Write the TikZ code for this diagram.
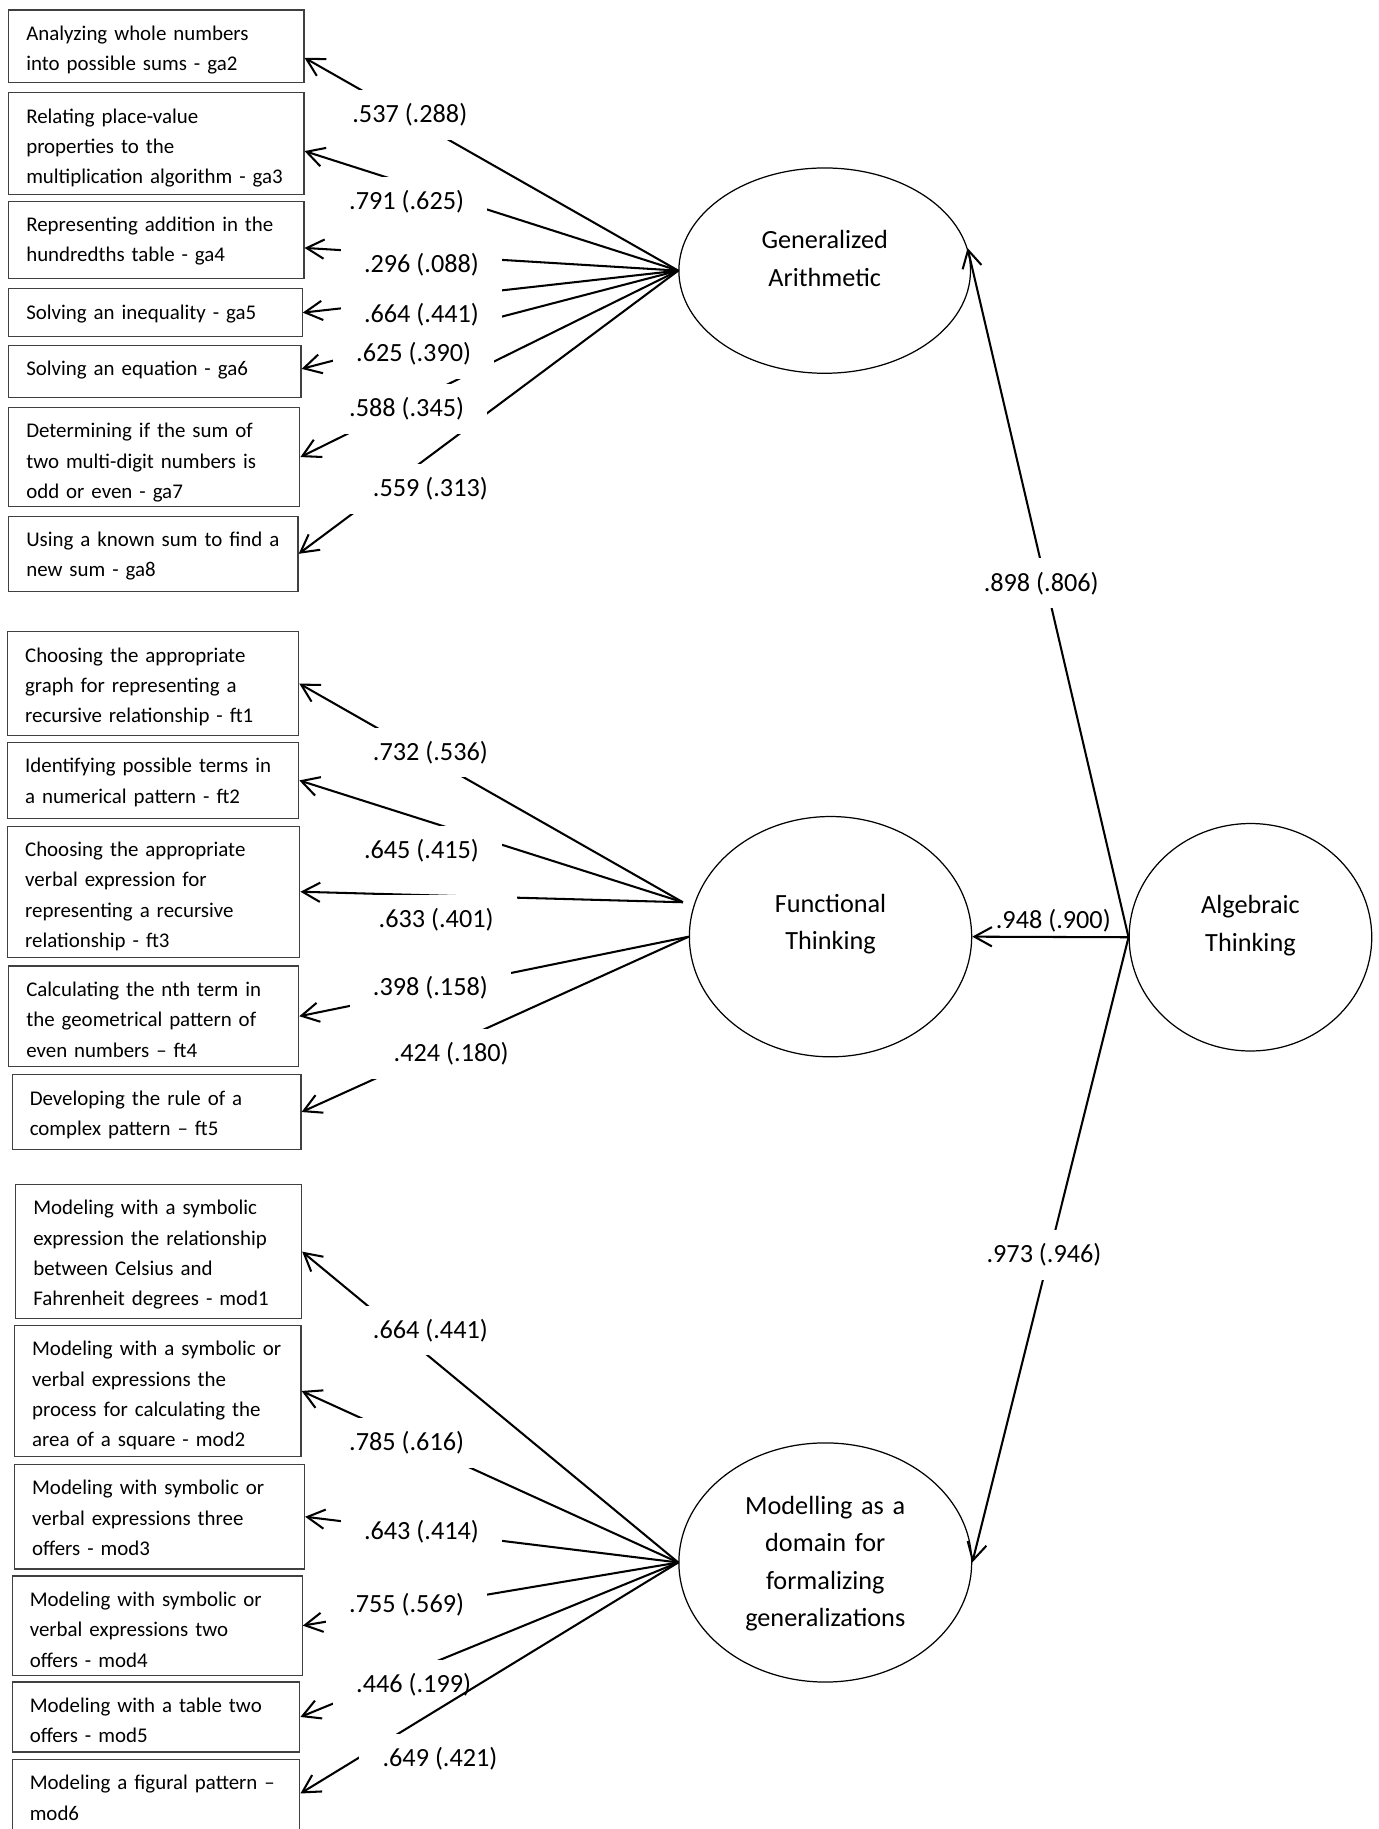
\documentclass[tikz,border=0pt]{standalone}
\usepackage{fontspec}
\setmainfont{Carlito}
\usepackage{tikz}
\usetikzlibrary{arrows.meta,calc,shapes.geometric}
\newcommand{\indfont}{\fontsize{10.2}{14.8}\selectfont}
\newcommand{\latfont}{\fontsize{12.8}{18.3}\selectfont}
\newcommand{\rows}[1]{\begin{tabular}[t]{@{}l@{}}#1\end{tabular}}
\tikzset{
  ind/.style={draw=black!75, line width=0.6pt, anchor=north west, align=left,
    inner xsep=3mm, inner ysep=0pt, text height=5.2mm, font=\indfont},
  lat/.style={draw, ellipse, line width=0.6pt, inner sep=0pt, align=center,
    text height=4.5mm, font=\latfont},
  load/.style={line width=1pt, -{Straight Barb[length=3mm,width=3.3mm]}},
  coef/.style={fill=white, inner xsep=4mm, inner ysep=2.3mm, font=\latfont}
}
\begin{document}
\begin{tikzpicture}[x=0.2mm, y=-0.2mm]
\useasboundingbox (0,0) rectangle (1182,1568);
\node[ind, text width=44.6mm, text depth=7.2mm] (ga2) at (7,8) {\rows{Analyzing whole numbers\\into possible sums - ga2}};
\node[ind, text width=44.6mm, text depth=12.2mm] (ga3) at (7,79) {\rows{Relating place-value\\properties to the\\multiplication algorithm - ga3}};
\node[ind, text width=44.6mm, text depth=8mm] (ga4) at (7,172) {\rows{Representing addition in the\\hundredths table - ga4}};
\node[ind, text width=44.3mm, text depth=3mm] (ga5) at (7,247) {\rows{Solving an inequality - ga5}};
\node[ind, text width=44.1mm, text depth=3.7mm] (ga6) at (7,295.7) {\rows{Solving an equation - ga6}};
\node[ind, text width=43.9mm, text depth=11.8mm] (ga7) at (7,348.8) {\rows{Determining if the sum of\\two multi-digit numbers is\\odd or even - ga7}};
\node[ind, text width=43.6mm, text depth=7.7mm] (ga8) at (7,442) {\rows{Using a known sum to find a\\new sum - ga8}};
\node[ind, text width=43.9mm, text depth=12.6mm] (ft1) at (6,541) {\rows{Choosing the appropriate\\graph for representing a\\recursive relationship - ft1}};
\node[ind, text width=43.9mm, text depth=7.8mm] (ft2) at (6,636) {\rows{Identifying possible terms in\\a numerical pattern - ft2}};
\node[ind, text width=44.1mm, text depth=17.3mm] (ft3) at (6,707.7) {\rows{Choosing the appropriate\\verbal expression for\\representing a recursive\\relationship - ft3}};
\node[ind, text width=43.7mm, text depth=12mm] (ft4) at (7,827.7) {\rows{Calculating the nth term in\\the geometrical pattern of\\even numbers – ft4}};
\node[ind, text width=43.5mm, text depth=7.6mm] (ft5) at (10,920.8) {\rows{Developing the rule of a\\complex pattern – ft5}};
\node[ind, text width=43mm, text depth=17.8mm] (mod1) at (13,1015) {\rows{Modeling with a symbolic\\expression the relationship\\between Celsius and\\Fahrenheit degrees - mod1}};
\node[ind, text width=43.1mm, text depth=17.3mm] (mod2) at (12,1135.7) {\rows{Modeling with a symbolic or\\verbal expressions the\\process for calculating the\\area of a square - mod2}};
\node[ind, text width=43.7mm, text depth=12.7mm] (mod3) at (12,1255) {\rows{Modeling with symbolic or\\verbal expressions three\\offers - mod3}};
\node[ind, text width=43.7mm, text depth=11.8mm] (mod4) at (10,1350.6) {\rows{Modeling with symbolic or\\verbal expressions two\\offers - mod4}};
\node[ind, text width=43.3mm, text depth=6.8mm] (mod5) at (10,1441.4) {\rows{Modeling with a table two\\offers - mod5}};
\node[ind, text width=43.3mm, text depth=7.8mm] (mod6) at (10,1508) {\rows{Modeling a figural pattern –\\mod6}};
\node[lat, minimum width=50mm, minimum height=35.2mm, text width=30mm, text depth=12mm] (GA) at (707,232) {Generalized\\Arithmetic};
\node[lat, minimum width=48.4mm, minimum height=41.2mm, text width=30mm, text depth=12.8mm] (FT) at (712,803) {Functional\\Thinking};
\node[lat, minimum width=41.6mm, minimum height=39mm, text width=26mm, text depth=12.6mm] (AT) at (1072,803.5) {Algebraic\\Thinking};
\node[lat, minimum width=50.2mm, minimum height=41mm, text width=30mm, text depth=21mm] (MOD) at (707.5,1339.5) {Modelling as a\\domain for\\formalizing\\generalizations};
\coordinate (FTup) at ($(FT.west)+(-5,-29.5)$);
\draw[load] (GA.west) -- ([yshift=-2mm]ga2.east);
\draw[load] (GA.west) -- ([yshift=-1.3mm]ga3.east);
\draw[load] (GA.west) -- ([yshift=-1.4mm]ga4.east);
\draw[load] (GA.west) -- (ga5.east);
\draw[load] (GA.west) -- ([yshift=0.45mm]ga6.east);
\draw[load] (GA.west) -- (ga7.east);
\draw[load] (GA.west) -- (ga8.east);
\draw[load] (FTup) -- (ft1.east);
\draw[load] (FTup) -- (ft2.east);
\draw[load] (FTup) -- (ft3.east);
\draw[load] (FT.west) -- (ft4.east);
\draw[load] (FT.west) -- (ft5.east);
\draw[load] (MOD.west) -- (mod1.east);
\draw[load] (MOD.west) -- (mod2.east);
\draw[load] (MOD.west) -- (mod3.east);
\draw[load] (MOD.west) -- (mod4.east);
\draw[load] (MOD.west) -- (mod5.east);
\draw[load] (AT.west) -- (GA.9);
\draw[load] (AT.west) -- (FT.east);
\draw[load] (AT.west) -- (MOD.east);
\node[coef] (cga2) at (351.3,98.6) {.537 (.288)};
\node[coef] (cga3) at (348.6,172.9) {.791 (.625)};
\node[coef] (cga4) at (361.3,227) {.296 (.088)};
\node[coef] (cga5) at (361.3,270) {.664 (.441)};
\node[coef] (cga6) at (354.6,303.4) {.625 (.390)};
\node[coef] (cga7) at (348.6,350.6) {.588 (.345)};
\node[coef] (cga8) at (369,419) {.559 (.313)};
\node[coef] (cft1) at (369,645.1) {.732 (.536)};
\node[coef] (cft2) at (361.3,729.4) {.645 (.415)};
\node[coef] (cft3) at (373.9,788.6) {.633 (.401)};
\node[coef] (cft4) at (369,846.6) {.398 (.158)};
\node[coef] (cft5) at (386.8,903.7) {.424 (.180)};
\node[coef] (cmod1) at (369,1140.6) {.664 (.441)};
\node[coef] (cmod2) at (348.6,1237) {.785 (.616)};
\node[coef] (cmod3) at (361.3,1313.4) {.643 (.414)};
\node[coef] (cmod4) at (348.6,1375.7) {.755 (.569)};
\node[coef] (cmod5) at (354.6,1444.3) {.446 (.199)};
\node[coef] (cGA) at (892.6,500) {.898 (.806)};
\node[coef, fill=none] (cFT) at (903,789) {.948 (.900)};
\node[coef] (cMOD) at (895,1076) {.973 (.946)};
\draw[load] (MOD.west) -- ([yshift=0.7mm]mod6.east);
\node[coef] (cmod6) at (377.2,1508) {.649 (.421)};
\end{tikzpicture}
\end{document}
